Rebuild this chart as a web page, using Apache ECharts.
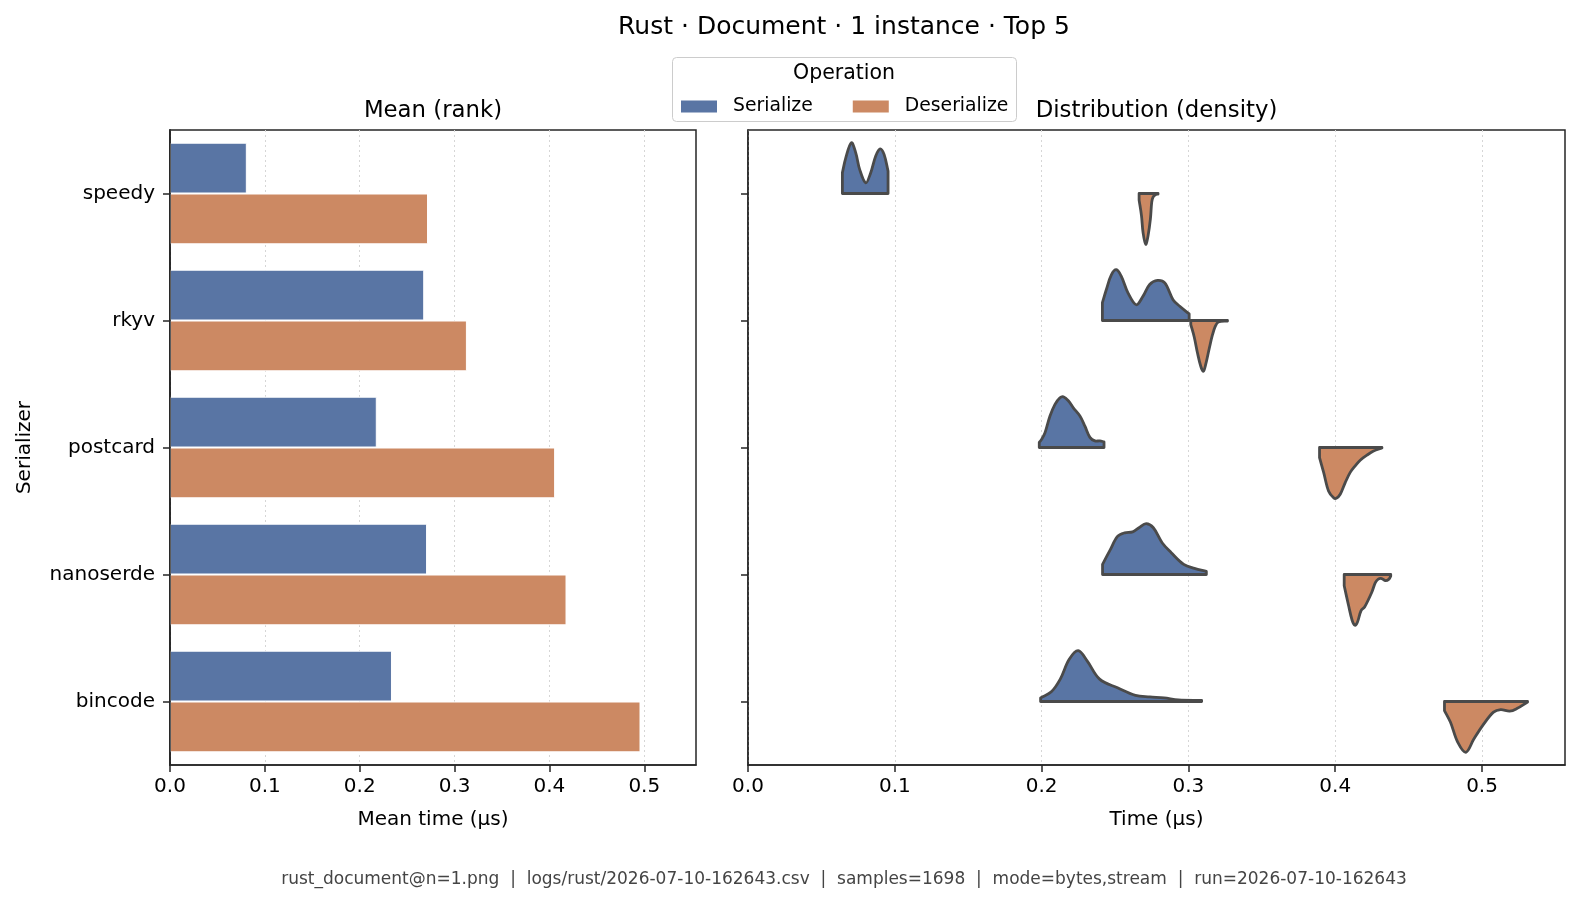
<!DOCTYPE html>
<html><head><meta charset="utf-8">
<script src="https://cdn.jsdelivr.net/npm/echarts@6/dist/echarts.min.js"></script>
<style>html,body{margin:0;padding:0;background:#fff}#c{width:1579px;height:905px}</style>
</head><body><div id="c"></div><script>
// ---------- data ----------
const serializers = ['speedy', 'rkyv', 'postcard', 'nanoserde', 'bincode'];
const serializeMean = [0.081, 0.268, 0.218, 0.271, 0.234];
const deserializeMean = [0.272, 0.313, 0.406, 0.418, 0.496];
const xTicks = [0, 0.1, 0.2, 0.3, 0.4, 0.5];

// density curves: [time (µs), relative density (0..1)]
const speedySerialize = [[0.0643,0.41],[0.0666,0.70],[0.0704,1.0],[0.0734,0.80],[0.0761,0.47],[0.0802,0.21],[0.0836,0.41],[0.0870,0.74],[0.0900,0.88],[0.0927,0.77],[0.0954,0.44]];
const speedyDeserialize = [[0.2664,0.13],[0.2680,0.43],[0.2691,0.77],[0.2709,1.0],[0.2725,0.83],[0.2741,0.5],[0.2750,0.17],[0.2759,0.07],[0.2777,0.02],[0.2793,0.01]];
const rkyvSerialize = [[0.2414,0.35],[0.2441,0.61],[0.2475,0.9],[0.2509,1.0],[0.2543,0.87],[0.2589,0.54],[0.2645,0.31],[0.2691,0.48],[0.2736,0.71],[0.2789,0.79],[0.2839,0.74],[0.2895,0.41],[0.2941,0.28],[0.3005,0.13]];
const rkyvDeserialize = [[0.3016,0.08],[0.3039,0.32],[0.3061,0.63],[0.3084,0.9],[0.3102,1.0],[0.3118,0.86],[0.3141,0.56],[0.3163,0.29],[0.3182,0.12],[0.3204,0.03],[0.3266,0.01]];
const postcardSerialize = [[0.1984,0.1],[0.2000,0.16],[0.2023,0.29],[0.2057,0.62],[0.2091,0.85],[0.2125,0.98],[0.2148,1.0],[0.2182,0.92],[0.2216,0.78],[0.2261,0.62],[0.2295,0.42],[0.2329,0.2],[0.2363,0.13],[0.2397,0.13],[0.2425,0.11]];
const postcardDeserialize = [[0.3893,0.2],[0.3921,0.49],[0.3955,0.86],[0.3989,0.99],[0.4007,1.0],[0.4034,0.92],[0.4068,0.69],[0.4102,0.49],[0.4136,0.36],[0.4170,0.25],[0.4216,0.15],[0.4261,0.07],[0.4318,0.01]];
const nanoserdeSerialize = [[0.2415,0.2],[0.2468,0.49],[0.2517,0.75],[0.2566,0.82],[0.2620,0.84],[0.2663,0.92],[0.2712,1.0],[0.2761,0.92],[0.2822,0.62],[0.2883,0.43],[0.2968,0.2],[0.3041,0.12],[0.3122,0.06]];
const nanoserdeDeserialize = [[0.4061,0.22],[0.4090,0.6],[0.4115,0.9],[0.4134,1.0],[0.4151,0.94],[0.4176,0.71],[0.4200,0.64],[0.4249,0.35],[0.4273,0.16],[0.4293,0.09],[0.4317,0.08],[0.4342,0.12],[0.4366,0.09],[0.4378,0.03]];
const bincodeSerialize = [[0.1993,0.07],[0.2066,0.19],[0.2127,0.44],[0.2188,0.83],[0.2249,1.0],[0.2310,0.8],[0.2395,0.44],[0.2517,0.27],[0.2639,0.12],[0.2737,0.09],[0.2834,0.07],[0.2932,0.03],[0.3090,0.02]];
const bincodeDeserialize = [[0.4744,0.18],[0.4785,0.41],[0.4834,0.8],[0.4890,1.0],[0.4944,0.74],[0.5005,0.47],[0.5078,0.21],[0.5127,0.16],[0.5188,0.19],[0.5237,0.14],[0.5310,0.01]];

const serializeCurves = [speedySerialize, rkyvSerialize, postcardSerialize, nanoserdeSerialize, bincodeSerialize];
const deserializeCurves = [speedyDeserialize, rkyvDeserialize, postcardDeserialize, nanoserdeDeserialize, bincodeDeserialize];

// ---------- style ----------
const FONT = 'DejaVu Sans';
const BLUE = '#5975a4', ORANGE = '#cc8963', INK = '#262626';
const chart = echarts.init(document.getElementById('c'), null, {renderer: 'canvas'});

function violinRender(curves, sign) {
  return function (params, api) {
    const idx = api.value(1);
    const pts = curves[idx];
    const center = api.coord([0, idx])[1];
    const half = api.size([0, 1])[1] * 0.4;
    const P = pts.map(p => [api.coord([p[0], idx])[0], center - sign * p[1] * half]);
    const x0 = P[0][0], xn = P[P.length - 1][0];
    const poly = [[x0, center], [x0, center], P[0]].concat(P, [P[P.length - 1], [xn, center], [xn, center]]);
    return {
      type: 'polygon',
      shape: {points: poly, smooth: 0.35},
      style: {fill: api.visual('color'), stroke: '#4a4a4a', lineWidth: 2.8, lineJoin: 'round'}
    };
  };
}

const axisLineStyle = {color: INK, width: 1.5};
function xAxisCfg(gi, max, name) {
  return {
    gridIndex: gi, type: 'value', min: 0, max: max, interval: 0.1,
    name: name, nameLocation: 'middle', nameGap: 45,
    nameTextStyle: {fontSize: 20, color: '#000', fontFamily: FONT},
    axisLine: {show: true, lineStyle: axisLineStyle},
    axisTick: {show: true, length: 7, lineStyle: axisLineStyle, customValues: xTicks},
    axisLabel: {customValues: xTicks, formatter: v => v.toFixed(1), fontSize: 20, color: '#000', fontFamily: FONT, margin: 12},
    splitLine: {show: true, lineStyle: {color: '#d6d6d6', type: [2, 3], width: 1}}
  };
}
function yAxisCfg(gi, labels) {
  return {
    gridIndex: gi, type: 'category', data: serializers, inverse: true,
    axisLine: {show: true, lineStyle: axisLineStyle},
    axisTick: {show: true, alignWithLabel: true, length: 7, lineStyle: axisLineStyle},
    axisLabel: {show: labels, fontSize: 20, color: '#000', fontFamily: FONT, margin: 15, padding: [6, 0, 0, 0]},
    splitLine: {show: false}
  };
}

const leftY = yAxisCfg(0, true);
leftY.name = 'Serializer';
leftY.nameLocation = 'middle';
leftY.nameGap = 135;
leftY.nameTextStyle = {fontSize: 20, color: '#000', fontFamily: FONT};

function label(text, x, y, size, color) {
  return {type: 'text', z: 5, x: x, y: y,
    style: {text: text, fontSize: size, fontFamily: FONT, fill: color || '#000', textAlign: 'center', textVerticalAlign: 'middle'}};
}

const option = {
  backgroundColor: '#fff',
  animation: false,
  textStyle: {fontFamily: FONT},
  grid: [
    {left: 170, top: 130, width: 526, height: 635, show: true, borderColor: INK, borderWidth: 1.5, backgroundColor: '#fff'},
    {left: 748, top: 130, width: 817, height: 635, show: true, borderColor: INK, borderWidth: 1.5, backgroundColor: '#fff'}
  ],
  xAxis: [xAxisCfg(0, 0.5545, 'Mean time (µs)'), xAxisCfg(1, 0.5565, 'Time (µs)')],
  yAxis: [
    leftY,
    yAxisCfg(1, false),
    {gridIndex: 0, type: 'category', data: serializers, inverse: true, position: 'left', offset: 0, z: 10,
     axisLine: {show: true, lineStyle: axisLineStyle}, axisTick: {show: false}, axisLabel: {show: false}, splitLine: {show: false}}
  ],
  legend: {
    data: [{name: 'Serialize', icon: 'rect'}, {name: 'Deserialize', icon: 'rect'}],
    left: 681, top: 97, itemWidth: 36, itemHeight: 12, itemGap: 40, padding: 0,
    selectedMode: false,
    itemStyle: {borderWidth: 0},
    textStyle: {fontSize: 18.8, color: '#000', fontFamily: FONT, padding: [0, 0, 0, 11]}
  },
  graphic: [
    {type: 'rect', z: 1, shape: {x: 672.5, y: 57.5, width: 344, height: 64, r: 4}, style: {fill: '#fff', stroke: '#cccccc', lineWidth: 1}},
    label('Operation', 844, 74, 20.5),
    label('Rust · Document · 1 instance · Top 5', 844, 27, 25),
    label('Mean (rank)', 433, 111, 22.8),
    label('Distribution (density)', 1156.5, 111, 22.8),
    label('rust_document@n=1.png  |  logs/rust/2026-07-10-162643.csv  |  samples=1698  |  mode=bytes,stream  |  run=2026-07-10-162643', 844, 880, 17, '#444')
  ],
  series: [
    {type: 'bar', name: 'Serialize', xAxisIndex: 0, yAxisIndex: 0, data: serializeMean, barWidth: '40%', barGap: '0%',
     itemStyle: {color: BLUE, borderColor: '#fff', borderWidth: 1}},
    {type: 'bar', name: 'Deserialize', xAxisIndex: 0, yAxisIndex: 0, data: deserializeMean, barWidth: '40%', barGap: '0%',
     itemStyle: {color: ORANGE, borderColor: '#fff', borderWidth: 1}},
    {type: 'custom', name: 'Serialize', xAxisIndex: 1, yAxisIndex: 1, clip: true,
     itemStyle: {color: BLUE},
     data: serializers.map((s, i) => [serializeMean[i], i]), encode: {x: 0, y: 1},
     renderItem: violinRender(serializeCurves, 1)},
    {type: 'custom', name: 'Deserialize', xAxisIndex: 1, yAxisIndex: 1, clip: true,
     itemStyle: {color: ORANGE},
     data: serializers.map((s, i) => [deserializeMean[i], i]), encode: {x: 0, y: 1},
     renderItem: violinRender(deserializeCurves, -1)}
  ]
};
chart.setOption(option);
</script></body></html>
